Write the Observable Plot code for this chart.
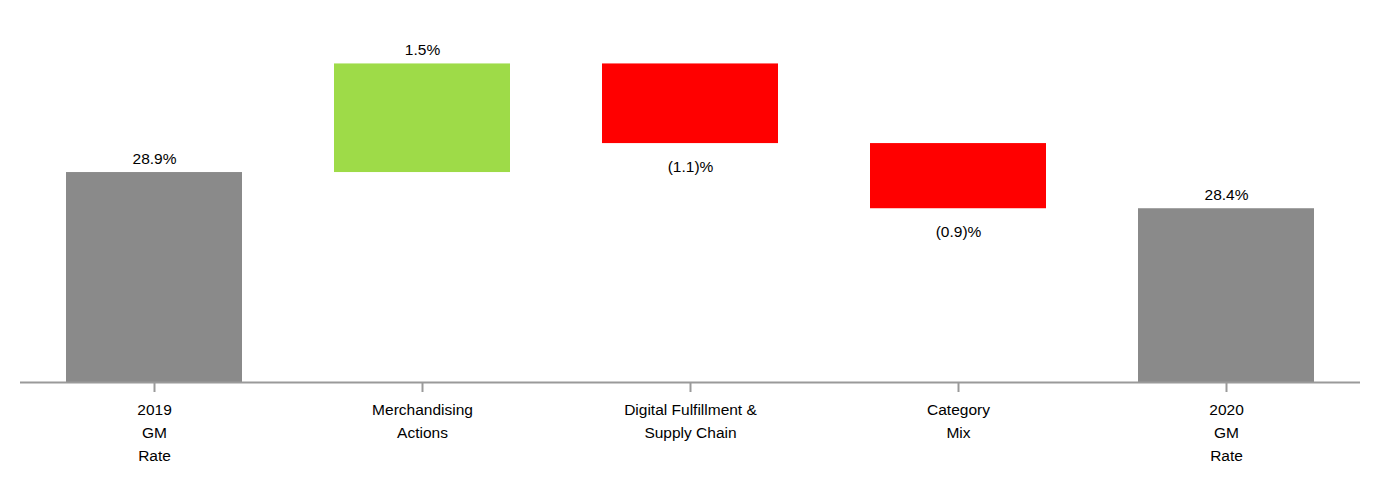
<!DOCTYPE html>
<html>
<head>
<meta charset="utf-8">
<script src="https://cdn.jsdelivr.net/npm/d3@7"></script>
<script src="https://cdn.jsdelivr.net/npm/@observablehq/plot@0.6"></script>
<style>
  html, body { margin: 0; padding: 0; background: #fff; }
  #chart svg { display: block; }
</style>
</head>
<body>
<div id="chart"></div>
<script>
const categories = ["2019 GM Rate", "Merchandising Actions", "Digital Fulfillment & Supply Chain", "Category Mix", "2020 GM Rate"];
const tickLabels = ["2019\nGM\nRate", "Merchandising\nActions", "Digital Fulfillment &\nSupply Chain", "Category\nMix", "2020\nGM\nRate"];
const values = [28.9, 1.5, -1.1, -0.9, 28.4];
const kinds = ["total", "change", "change", "change", "total"];
const valueLabels = ["28.9%", "1.5%", "(1.1)%", "(0.9)%", "28.4%"];

const yMin = 26, yMax = 31;
let running = 0;
const rows = categories.map((c, i) => {
  let y1, y2;
  if (kinds[i] === "total") { y1 = yMin; y2 = values[i]; running = values[i]; }
  else { y1 = running; y2 = running + values[i]; running = y2; }
  const color = kinds[i] === "total" ? "#8a8a8a" : (values[i] >= 0 ? "#9edb48" : "#ff0000");
  return {cat: c, y1, y2, color, label: valueLabels[i], neg: values[i] < 0,
          labelY: values[i] < 0 ? Math.min(y1, y2) : Math.max(y1, y2)};
});

const chart = Plot.plot({
  width: 1380,
  height: 480,
  marginLeft: 20,
  marginRight: 20,
  marginTop: 20,
  marginBottom: 98,
  style: {fontFamily: "Liberation Sans, Arial, sans-serif", fontSize: "15.5px", color: "#000", background: "#fff"},
  x: {domain: categories, paddingInner: 0.343, paddingOuter: 0.17, label: null},
  y: {domain: [yMin, yMax], axis: null},
  marks: [
    Plot.barY(rows, {x: "cat", y1: "y1", y2: "y2", fill: "color", inset: 0}),
    Plot.text(rows.filter(d => !d.neg), {x: "cat", y: "labelY", text: "label", dy: -14, fontSize: 15.5, fill: "#000"}),
    Plot.text(rows.filter(d => d.neg), {x: "cat", y: "labelY", text: "label", dy: 23, fontSize: 15.5, fill: "#000"}),
    Plot.ruleY([yMin], {stroke: "#9a9a9a", strokeWidth: 2}),
    Plot.axisX({
      tickFormat: d => tickLabels[categories.indexOf(d)],
      tickSize: 10, tickPadding: 6, stroke: "#9a9a9a", strokeWidth: 2,
      fontSize: 15.5, lineHeight: 1.48, fill: "#000", label: null
    })
  ]
});
document.getElementById("chart").appendChild(chart);
</script>
</body>
</html>
